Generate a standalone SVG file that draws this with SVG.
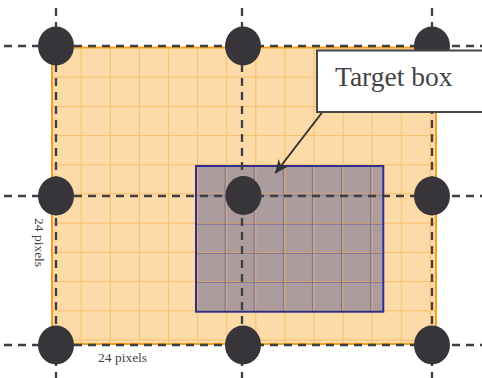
<svg xmlns="http://www.w3.org/2000/svg" width="482" height="378" viewBox="0 0 482 378">
  <style>
    .grid-o { stroke: #f7b54c; stroke-width: 1; opacity: 0.7; }
    .grid-b { stroke: #4b4fb0; stroke-width: 1; opacity: 0.55; }
    .guide { stroke: #3f3e42; stroke-width: 2.3; stroke-dasharray: 8 6; fill: none; }
    .pin { fill: #37353a; }
    .label { font-family: "Liberation Serif", "Times New Roman", serif; fill: #444; }
  </style>
  <defs>
    <marker id="arrowhead" viewBox="0 0 14 12" refX="13" refY="6" markerWidth="14" markerHeight="12" markerUnits="userSpaceOnUse" orient="auto">
      <path d="M0,0 L14,6 L0,12 L4,6 z" fill="#333"/>
    </marker>
  </defs>

  <!-- outer region with 29px grid -->
  <g id="region">
    <rect x="52" y="47.5" width="384" height="296.5" fill="#fcdba9"/>
    <g class="grid-o">
      <path d="M81.2,47.5V344 M110.3,47.5V344 M139.4,47.5V344 M168.5,47.5V344 M197.6,47.5V344 M226.7,47.5V344 M255.8,47.5V344 M284.9,47.5V344 M314,47.5V344 M343.1,47.5V344 M372.2,47.5V344 M401.3,47.5V344 M430.4,47.5V344"/>
      <path d="M52,77.2H436 M52,106.4H436 M52,135.6H436 M52,164.8H436 M52,194H436 M52,223.2H436 M52,252.4H436 M52,281.6H436 M52,310.8H436 M52,340H436"/>
    </g>
    <rect x="52" y="47.5" width="384" height="296.5" fill="none" stroke="#f7a11c" stroke-width="2"/>
  </g>

  <!-- target area -->
  <g id="target">
    <rect x="196" y="166" width="187.3" height="145.7" fill="#a6979c" fill-opacity="0.92"/>
    <g class="grid-o" opacity="0.45">
      <path d="M197.6,166V311.7 M226.7,166V311.7 M255.8,166V311.7 M284.9,166V311.7 M314,166V311.7 M343.1,166V311.7 M372.2,166V311.7"/>
      <path d="M196,194H383.3 M196,223.2H383.3 M196,252.4H383.3 M196,281.6H383.3 M196,310.8H383.3"/>
    </g>
    <g class="grid-b">
      <path d="M225.1,166V311.7 M254.2,166V311.7 M283.3,166V311.7 M312.4,166V311.7 M341.5,166V311.7 M370.6,166V311.7"/>
      <path d="M196,195.1H383.3 M196,224.2H383.3 M196,253.3H383.3 M196,282.4H383.3"/>
    </g>
    <rect x="196" y="166" width="187.3" height="145.7" fill="none" stroke="#2b2f91" stroke-width="2"/>
  </g>

  <!-- dashed guide lines -->
  <g id="guides">
    <path class="guide" d="M4,46H482 M4,196H482 M4,345H482"/>
    <path class="guide" d="M56,8V378 M242,8V378 M432,8V378"/>
  </g>

  <!-- pixel centres -->
  <g id="pins">
    <ellipse id="pin-1" class="pin" cx="56" cy="46" rx="18" ry="19.5"/>
    <ellipse id="pin-2" class="pin" cx="243" cy="46" rx="18" ry="19.5"/>
    <ellipse id="pin-3" class="pin" cx="432" cy="46" rx="18" ry="19.5"/>
    <ellipse id="pin-4" class="pin" cx="56" cy="196" rx="18" ry="19.5"/>
    <ellipse id="pin-5" class="pin" cx="243.5" cy="195.5" rx="18" ry="19.5"/>
    <ellipse id="pin-6" class="pin" cx="432" cy="196" rx="18" ry="19.5"/>
    <ellipse id="pin-7" class="pin" cx="56" cy="345" rx="18" ry="19.5"/>
    <ellipse id="pin-8" class="pin" cx="243" cy="345" rx="18" ry="19.5"/>
    <ellipse id="pin-9" class="pin" cx="432" cy="345" rx="18" ry="19.5"/>
  </g>

  <!-- callout -->
  <g id="callout">
    <rect x="317" y="50.5" width="180" height="61.5" fill="#fff" stroke="#444" stroke-width="2"/>
    <text class="label" x="335" y="85.5" font-size="27.5" fill="#3a3a3a">Target box</text>
  </g>

  <!-- connectors -->
  <g id="connectors">
    <path d="M321.7,113 L275.5,173" stroke="#333" stroke-width="2" fill="none" marker-end="url(#arrowhead)"/>
  </g>

  <!-- dimension labels -->
  <g id="dim-h">
    <text class="label" x="98" y="362" font-size="13.5">24 pixels</text>
  </g>
  <g id="dim-v">
    <text class="label" x="0" y="0" font-size="13.5" transform="translate(35,218) rotate(90)">24 pixels</text>
  </g>
</svg>
